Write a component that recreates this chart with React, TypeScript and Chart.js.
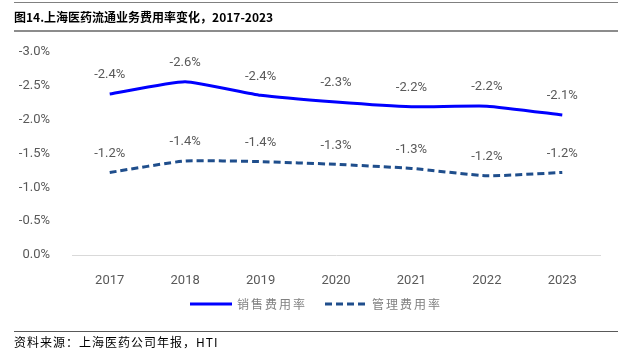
import React, { useEffect, useRef } from 'react';
import { Chart, registerables } from 'chart.js';

Chart.register(...registerables);

const years = ['2017', '2018', '2019', '2020', '2021', '2022', '2023'];
const salesRate = [-2.38, -2.56, -2.36, -2.26, -2.19, -2.2, -2.07];
const adminRate = [-1.22, -1.39, -1.38, -1.34, -1.28, -1.17, -1.22];
const seriesNames = ['销售费用率', '管理费用率'];
const titleText = '图14.上海医药流通业务费用率变化，2017-2023';
const sourceText = '资料来源：上海医药公司年报，HTI';

const fmt = (v: number) => Number(v).toFixed(1) + '%';
const latinFont = 'Roboto, "Open Sans", sans-serif';
const cjkFont = '"Noto Sans CJK SC", sans-serif';

const dataLabelPlugin = {
  id: 'dataLabelPlugin',
  afterDatasetsDraw(chart: any) {
    const ctx = chart.ctx;
    ctx.save();
    ctx.font = '13px ' + latinFont;
    ctx.fillStyle = '#595959';
    ctx.textAlign = 'center';
    ctx.textBaseline = 'middle';
    chart.data.datasets.forEach((ds: any, i: number) => {
      const meta = chart.getDatasetMeta(i);
      meta.data.forEach((pt: any, j: number) => {
        ctx.fillText(fmt(ds.data[j]), pt.x, pt.y - 19);
      });
    });
    ctx.restore();
  },
};

const legendPlugin = {
  id: 'customLegend',
  afterDraw(chart: any) {
    const ctx = chart.ctx;
    const y = 304;
    const items = [
      { x0: 190, x1: 232, tx: 237 },
      { x0: 325, x1: 367, tx: 372 },
    ];
    ctx.save();
    chart.data.datasets.forEach((ds: any, i: number) => {
      const it = items[i];
      ctx.beginPath();
      ctx.strokeStyle = ds.borderColor;
      ctx.lineWidth = ds.borderWidth;
      ctx.setLineDash(ds.borderDash || []);
      ctx.moveTo(it.x0, y);
      ctx.lineTo(it.x1, y);
      ctx.stroke();
      ctx.setLineDash([]);
      ctx.font = '12px ' + cjkFont;
      ctx.fillStyle = '#808080';
      ctx.textAlign = 'left';
      ctx.textBaseline = 'middle';
      (ctx as any).letterSpacing = '2px';
      ctx.fillText(ds.label, it.tx, y);
    });
    ctx.restore();
  },
};

export default function App() {
  const ref = useRef<HTMLCanvasElement | null>(null);

  useEffect(() => {
    if (!ref.current) return;
    const chart = new Chart(ref.current, {
      type: 'line',
      data: {
        labels: years,
        datasets: [
          {
            label: seriesNames[0],
            data: salesRate,
            borderColor: '#0000ff',
            borderWidth: 3,
            pointRadius: 0,
            tension: 0.15,
            fill: false,
          },
          {
            label: seriesNames[1],
            data: adminRate,
            borderColor: '#1f4e8c',
            borderWidth: 3,
            borderDash: [7, 4],
            pointRadius: 0,
            tension: 0.15,
            fill: false,
          },
        ],
      },
      options: {
        responsive: false,
        animation: false,
        layout: { padding: { top: 52, right: 22, left: 0, bottom: 0 } },
        plugins: {
          legend: { display: false },
          tooltip: { enabled: false },
        },
        scales: {
          x: {
            type: 'category',
            offset: true,
            grid: { display: false },
            border: { display: true, color: '#d9d9d9', width: 1 },
            ticks: { color: '#595959', font: { family: latinFont, size: 13 }, padding: 10 },
            afterFit: (s: any) => {
              s.height = 96;
            },
          },
          y: {
            min: -3,
            max: 0,
            reverse: true,
            grid: { display: false },
            border: { display: false },
            ticks: {
              stepSize: 0.5,
              color: '#595959',
              font: { family: latinFont, size: 13 },
              padding: 14,
              callback: (v: any) => fmt(Number(v)),
            },
            afterFit: (s: any) => {
              s.width = 72;
            },
          },
        },
      },
      plugins: [dataLabelPlugin, legendPlugin],
    });
    return () => chart.destroy();
  }, []);

  return (
    <div style={{ position: 'absolute', left: 0, top: 0, width: 622, height: 351, background: '#fff', overflow: 'hidden' }}>
      <canvas ref={ref} width={622} height={351} style={{ position: 'absolute', left: 0, top: 0, width: 622, height: 351 }} />
      <div style={{ position: 'absolute', left: 14, top: 2, width: 604, height: 0, borderTop: '1px solid #808080' }} />
      <div
        style={{
          position: 'absolute',
          left: 14,
          top: 8,
          fontFamily: cjkFont,
          fontWeight: 700,
          fontSize: 12,
          lineHeight: '18px',
          color: '#000',
          whiteSpace: 'nowrap',
        }}
      >
        {titleText}
      </div>
      <div style={{ position: 'absolute', left: 14, top: 30, width: 604, height: 2, background: '#8c8c8c' }} />
      <div style={{ position: 'absolute', left: 14, top: 331, width: 604, height: 0, borderTop: '1px solid #595959' }} />
      <div
        style={{
          position: 'absolute',
          left: 14,
          top: 334,
          fontFamily: cjkFont,
          fontSize: 12,
          letterSpacing: 1,
          lineHeight: '16px',
          color: '#000',
          whiteSpace: 'nowrap',
        }}
      >
        {sourceText}
      </div>
    </div>
  );
}
